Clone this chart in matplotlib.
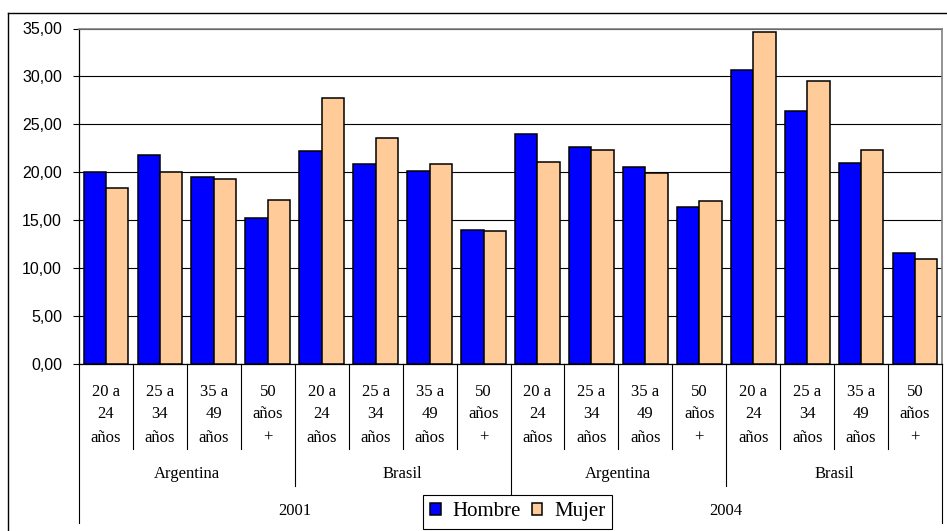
import matplotlib
matplotlib.use('Agg')
import matplotlib.pyplot as plt
from matplotlib.transforms import blended_transform_factory
from matplotlib.lines import Line2D
import numpy as np

years = ['2001', '2004']
countries = ['Argentina', 'Brasil']
age_groups = [['20 a', '24', 'años'], ['25 a', '34', 'años'],
              ['35 a', '49', 'años'], ['50', 'años', '+']]
hombre = [20.0, 21.8, 19.5, 15.2, 22.2, 20.8, 20.1, 14.0,
          24.0, 22.6, 20.5, 16.4, 30.7, 26.4, 20.9, 11.5]
mujer = [18.3, 20.0, 19.3, 17.1, 27.7, 23.6, 20.8, 13.8,
         21.1, 22.3, 19.9, 17.0, 34.6, 29.5, 22.3, 10.9]
yticks = [0, 5, 10, 15, 20, 25, 30, 35]

W, H = 947, 531
fig = plt.figure(figsize=(W / 100, H / 100), dpi=100)


def fy(p):
    return 1 - p / H


def fx(p):
    return p / W


ax = fig.add_axes([fx(79), fy(363.5), fx(942) - fx(79), fy(28.5) - fy(363.5)])

n = len(hombre)
x = np.arange(n)
w = 0.415
b1 = ax.bar(x - w / 2, hombre, w, color='#0000FF', edgecolor='black', lw=1.1, zorder=3)
b2 = ax.bar(x + w / 2, mujer, w, color='#FFCC99', edgecolor='black', lw=1.1, zorder=3)

ax.set_xlim(-0.5, n - 0.5)
ax.set_ylim(0, 35)
ax.set_yticks(yticks)
ax.set_yticklabels([f"{v:.2f}".replace('.', ',') for v in yticks],
                   fontfamily='Liberation Sans', fontsize=11.5)
ax.grid(axis='y', color='black', lw=0.8, zorder=0)
ax.set_axisbelow(True)
for s in ['top', 'right']:
    ax.spines[s].set_color('#808080')
    ax.spines[s].set_linewidth(1.2)
for s in ['left', 'bottom']:
    ax.spines[s].set_color('black')
    ax.spines[s].set_linewidth(0.9)
ax.tick_params(axis='y', direction='out', length=4.3, width=0.8, pad=7.9)
ax.tick_params(axis='x', bottom=False, labelbottom=False)

trans = blended_transform_factory(ax.transData, fig.transFigure)
base = 363.5
for b in range(n + 1):
    xb = b - 0.5
    if b % 8 == 0:
        depth = 523
    elif b % 4 == 0:
        depth = 486
    else:
        depth = 449
    ax.plot([xb, xb], [fy(base), fy(depth)], transform=trans, color='black',
            lw=0.8, clip_on=False, zorder=1)

serif = 'Liberation Serif'
line_y = [396, 418.5, 441.5]
for i in range(n):
    for j, txt in enumerate(age_groups[i % 4]):
        ax.text(i, fy(line_y[j]), txt, transform=trans, ha='center', va='baseline',
                fontfamily=serif, fontsize=12)
for k in range(4):
    ax.text(1.5 + 4 * k, fy(478.3), countries[k % 2], transform=trans, ha='center',
            va='baseline', fontfamily=serif, fontsize=12)
for k in range(2):
    ax.text(3.5 + 8 * k, fy(515.3), years[k], transform=trans, ha='center',
            va='baseline', fontfamily=serif, fontsize=12)

leg = fig.legend([b1, b2], ['Hombre', 'Mujer'], loc='upper left',
                 bbox_to_anchor=(fx(423), fy(495)), bbox_transform=fig.transFigure,
                 ncol=2, prop={'family': serif, 'size': 15}, handlelength=0.5,
                 handleheight=0.5, handletextpad=0.55, columnspacing=0.55,
                 borderpad=0.35, borderaxespad=0, frameon=True, fancybox=False,
                 edgecolor='black', framealpha=1)
leg.get_frame().set_linewidth(0.8)

fig.add_artist(Line2D([fx(8), fx(8)], [fy(13), 0], color='black', lw=1))
fig.add_artist(Line2D([fx(8), 1], [fy(13), fy(13)], color='black', lw=1))

fig.savefig('out.png', dpi=100)
